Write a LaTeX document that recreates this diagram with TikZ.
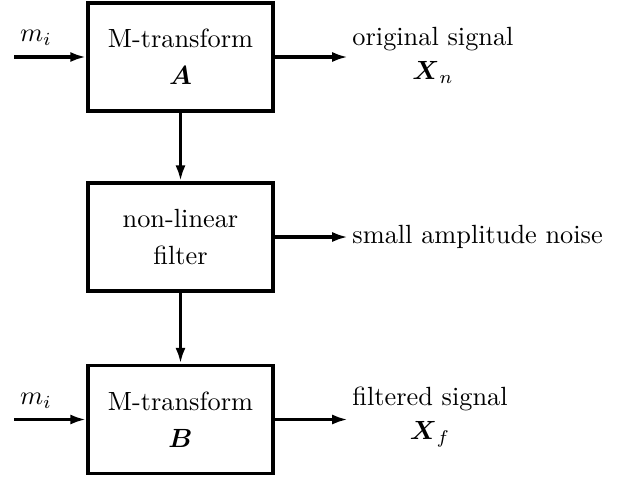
\documentclass[tikz,border=0pt]{standalone}
\usepackage{amsmath}
\usepackage{tikz}
\usetikzlibrary{arrows.meta, positioning}

\begin{document}
\begin{tikzpicture}[x=0.38pt, y=-0.38pt, >={Latex[length=6pt,width=3.8pt]},
  block/.style={draw, line width=1.4pt, minimum width=70.3pt, minimum height=41pt, align=center},
  sig/.style={->, line width=1.4pt},
  outlabel/.style={anchor=west, align=center, inner sep=1.5pt}]
  \useasboundingbox (0,0) rectangle (623,481);
  % blocks
  \node[block] (mtA) at (180.5,57) {M-transform\\[2pt] $\boldsymbol{A}$};
  \node[block] (nlf) at (180.5,237) {non-linear\\[2pt] filter};
  \node[block] (mtB) at (180.5,419.5) {M-transform\\[2pt] $\boldsymbol{B}$};
  % inputs
  \coordinate (inA) at (14,57);
  \coordinate (inB) at (14,419.5);
  \node (miA) at (36,38) {$m_i$};
  \node (miB) at (36,401) {$m_i$};
  % outputs
  \node[outlabel] (outA) at (348,55) {original signal\\[1pt] $\boldsymbol{X}_{n}$};
  \node[outlabel] (noise) at (348,237) {small amplitude noise};
  \node[outlabel] (outB) at (348,417) {filtered signal\\[1pt] $\boldsymbol{X}_{f}$};
  % connectors
  \draw[sig] (inA) -- (mtA.west);
  \draw[sig] (inB) -- (mtB.west);
  \draw[sig] (mtA.east) -- (mtA.east -| outA.west);
  \draw[sig] (nlf.east) -- (noise.west);
  \draw[sig] (mtB.east) -- (mtB.east -| outB.west);
  \draw[sig] (mtA) -- (nlf);
  \draw[sig] (nlf) -- (mtB);
\end{tikzpicture}
\end{document}
